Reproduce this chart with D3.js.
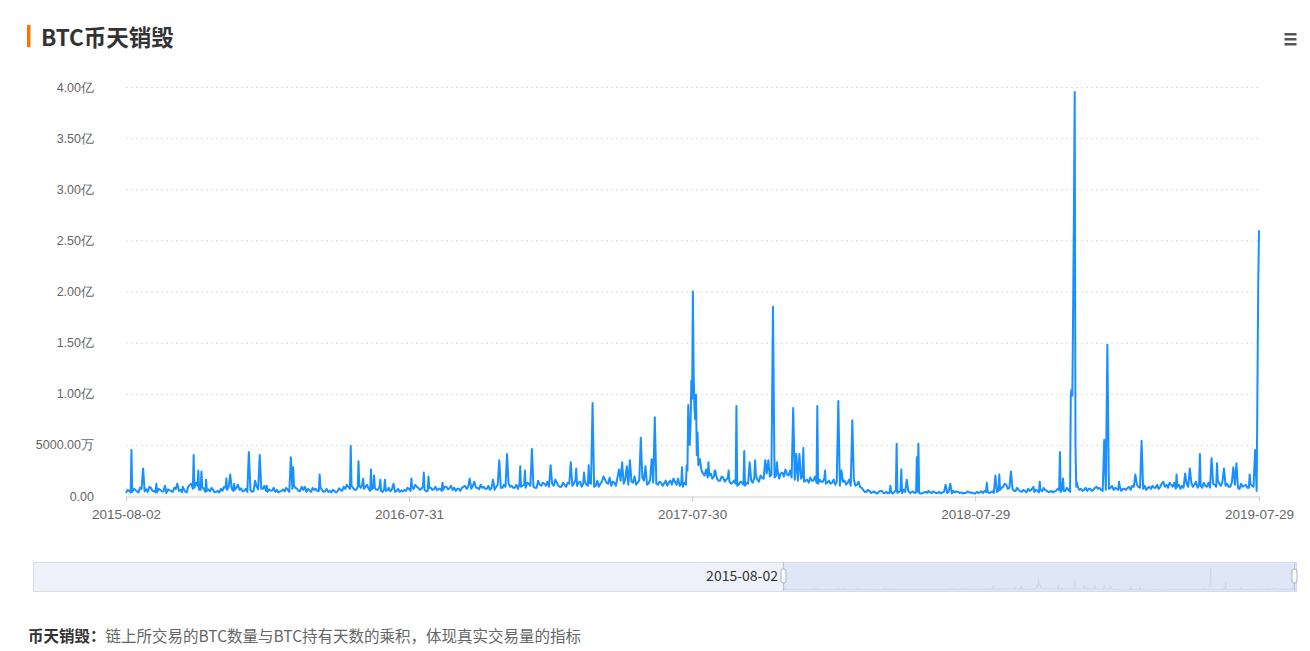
<!DOCTYPE html>
<html><head><meta charset="utf-8">
<script src="https://cdnjs.cloudflare.com/ajax/libs/d3/7.8.5/d3.min.js"></script>
<style>
body{margin:0;background:#fff;}
svg{display:block;font-family:"Microsoft YaHei","Noto Sans CJK SC","Noto Sans",sans-serif;}
</style>
</head><body>
<svg id="chart" width="1310" height="651"></svg>
<script>
// ---------------- data ----------------
const titleText = "BTC币天销毁";
const noteLabel = "币天销毁：";
const noteText = "链上所交易的BTC数量与BTC持有天数的乘积，体现真实交易量的指标";
const startDate = "2015-08-02";
const endDate = "2019-07-29";
// baseline readings (unit: 万) on days 0,4,8,... after startDate
const baseValues = [
 300,500,400,600,350,700,450,400,800,500,
 350,600,450,300,550,400,700,500,380,450,
 900,1200,800,1000,600,700,500,450,600,400,
 350,500,800,900,700,600,1000,750,500,400,
 600,450,900,1100,700,500,650,550,400,350,
 500,450,600,900,1000,700,500,600,400,550,
 800,700,500,600,450,400,350,500,450,600,
 900,1100,700,800,600,1000,1200,900,700,650,
 800,600,500,700,550,450,600,500,400,450,
 500,700,900,1100,800,700,600,500,800,650,
 550,700,600,900,750,600,500,700,800,1000,
 900,700,600,800,1100,900,700,600,750,900,
 1000,800,900,1200,1000,800,700,900,1100,1300,
 1000,900,800,1100,1300,1000,900,1200,1400,1000,
 900,1100,1300,1500,1200,1000,1400,1200,1100,1300,
 1200,1000,900,1400,1600,1200,1000,1300,1800,1500,
 1200,1400,1700,1300,1100,1500,1800,1400,1200,1000,
 900,1100,1300,1200,1000,1500,1300,1100,1000,900,
 1100,1400,2000,
 5000,3000,2500,2000,1800,2200,1900,
 1700,1500,1800,1600,1400,1300,1200,1100,1300,1000,
 1200,1500,1800,1600,2000,1700,2200,1900,2400,2000,
 1700,2300,2600,2000,1800,1600,1500,1700,1400,1600,
 1800,1500,1300,1600,1400,1200,1500,1300,1100,1400,
 1200,1500,1300,1000,1600,1100,900,
 600,400,500,
 350,300,400,500,300,250,350,400,300,500,
 600,400,300,450,350,300,250,400,500,300,
 350,300,250,400,300,350,500,450,300,250,
 300,400,350,250,300,450,500,400,350,300,
 400,600,900,1100,800,700,500,600,400,500,
 700,600,400,500,600,800,500,400,350,500,
 600,
 700,500,600,800,1200,900,700,600,500,
 700,600,900,800,500,600,700,1000,800,600,
 500,700,800,600,900,1100,800,700,600,900,
 1000,800,700,1200,900,800,1100,1300,900,700,
 800,1200,1000,900,1400,1100,800,1000,1300,900,
 1100,1500,1000,800,1200,900,1300,1000,700,900,
 1100,800,1000,600,700
];
// baseline readings (unit: 万) on days 2,6,10,... after startDate
const midValues = [
 600,350,700,450,800,400,650,900,500,350,
 700,450,300,650,500,800,400,600,700,350,
 1100,700,1300,600,900,400,650,800,350,500,
 700,900,600,1200,500,800,600,450,700,550,
 400,800,650,700,1000,400,500,800,600,450,
 650,800,400,700,800,500,900,450,700,400,
 600,500,850,400,700,500,600,350,750,500,
 700,900,1000,600,900,800,700,1100,500,800,
 600,900,400,500,800,650,400,700,550,600,
 800,500,700,900,600,1000,450,800,600,900,
 700,500,900,650,1000,800,700,500,900,700,
 600,1000,800,650,800,700,1000,800,600,1100,
 800,1100,1300,900,800,1100,1200,1000,800,1200,
 1200,800,1100,1000,1200,1400,800,1000,1300,900,
 1300,900,1200,1000,1600,1300,900,1500,1000,1200,
 900,1500,1200,1100,1300,1800,1400,1000,1500,1200,
 1600,1100,1400,1900,1300,1200,1500,1100,1600,1300,
 1200,1400,1000,1500,1300,1100,1400,1700,1200,1300,
 2500,7000,12000,
 4000,3500,2200,2600,2000,1700,2400,
 1500,1900,1400,1800,1200,1500,1000,1400,1100,1300,
 1600,1300,2000,1400,1800,2300,1600,2100,1800,2500,
 2200,1900,2100,2500,1600,1900,1400,1900,1500,1300,
 1500,1900,1200,1400,1700,1300,1200,1600,1400,1000,
 1400,1100,1600,1300,1000,1400,800,
 400,600,300,
 450,250,500,300,400,350,250,500,400,300,
 400,500,350,300,450,250,350,300,350,450,
 300,400,350,300,450,250,350,400,350,300,
 450,300,250,400,350,300,400,300,450,350,
 500,800,1200,700,1000,500,800,450,600,350,
 500,800,600,350,450,600,400,500,450,700,
 400,
 500,800,400,600,900,600,500,800,700,
 500,800,700,600,900,500,800,600,700,900,
 700,600,900,1000,700,900,600,1000,800,700,
 800,1100,900,800,1100,1300,900,700,1100,1000,
 1100,900,1300,1100,800,1000,1300,900,800,1200,
 900,1200,1400,1000,900,1300,1100,800,1200,1000,
 800,1200,900,700
];
// single-day readings [days after startDate, value in 万]
const spikes = [
 [7,4500],[22,2700],[39,1200],[50,1000],[66,1200],[73,900],[87,4000],[93,2500],[97,2400],[103,1600],
 [129,1700],[134,2100],[139,1200],[144,1100],[158,4300],[166,1500],[172,4000],[181,1000],[212,3800],[215,2800],
 [230,900],[249,2100],[289,4900],[299,3400],[305,1700],[315,2600],[319,2000],[327,1600],[333,1600],[344,1200],
 [367,1700],[383,2300],[389,1900],[407,1300],[442,1700],[448,1400],[472,1600],[480,3500],[490,4100],[507,2900],
 [513,2500],[522,4600],[530,1500],[546,3000],[552,1600],[572,3300],[579,2700],[589,2300],[595,3000],[600,9100],
 [614,1900],[634,2600],[638,3300],[644,2900],[648,3500],[662,5700],[668,2900],[676,3600],[680,7700],[704,1700],
 [715,2800],[721,3000],[723,8900],[724,6000],[725,5000],[727,11300],[728,9500],[729,20000],[731,8700],[732,7500],
 [733,9900],[735,6200],[738,3600],[749,3300],[757,2500],[775,2500],[785,8800],[795,4400],[802,3300],[809,3500],
 [822,3500],[826,3500],[832,18500],[837,3300],[849,2400],[858,8600],[862,4100],[866,4100],[871,4700],[889,8800],
 [899,2500],[916,9300],[920,2500],[934,7400],[942,1400],[983,1000],[991,5100],[997,2600],[1004,1600],[1017,3800],
 [1019,5100],[1054,1100],[1060,1200],[1107,1300],[1118,2000],[1123,2100],[1138,2400],[1167,900],[1175,1400],[1201,4300],
 [1205,1700],[1215,10000],[1216,10400],[1217,9800],[1218,18500],[1219,28000],[1220,39500],[1221,4800],[1223,1300],[1258,5500],
 [1262,14800],[1277,1400],[1298,2100],[1306,5400],[1334,1400],[1351,2100],[1362,2200],[1368,2700],[1381,4100],[1396,3700],
 [1403,3200],[1412,2700],[1424,2800],[1428,3200],[1445,2100],[1452,4500],[1454,500],[1456,20600],[1457,26000]
];
const xTickLabels = ["2015-08-02","2016-07-31","2017-07-30","2018-07-29","2019-07-29"];
const yTickValues = [0,5000,10000,15000,20000,25000,30000,35000,40000];
const sliderStartLabel = "2015-08-02";

// ---------------- build series ----------------
const parse = d3.utcParse("%Y-%m-%d");
const fmtDate = d3.utcFormat("%Y-%m-%d");
const t0 = parse(startDate), t1 = parse(endDate);
const byDay = new Map();
baseValues.forEach((v,i)=>byDay.set(i*4, v));
midValues.forEach((v,i)=>byDay.set(i*4+2, v));
spikes.forEach(([d,v])=>byDay.set(d, v));
const series = Array.from(byDay, ([d,v])=>({date:d3.utcDay.offset(t0,d), value:v}))
  .sort((a,b)=>a.date-b.date);

// ---------------- drawing ----------------
const svg = d3.select("#chart");
const L = 126, R = 1259, T = 87, B = 496;
const x = d3.scaleUtc().domain([t0,t1]).range([L,R]);
const y = d3.scaleLinear().domain([0,40000]).range([B,T]);
const yFmt = v => v===0 ? "0.00" : (v>=10000 ? (v/10000).toFixed(2)+"亿" : v.toFixed(2)+"万");

// title
svg.append("rect").attr("x",27).attr("y",25).attr("width",3.5).attr("height",22).attr("fill","#ff7300");
svg.append("text").attr("x",41).attr("y",46).attr("font-size",22.5).attr("font-weight","bold")
  .attr("fill","#333").text(titleText);

// menu icon
[33,38,43].forEach(yy=>svg.append("rect").attr("x",1284.5).attr("y",yy).attr("width",12).attr("height",2.5).attr("fill","#555"));

// grid
svg.append("g").selectAll("line").data(yTickValues.filter(v=>v>0)).join("line")
  .attr("x1",L).attr("x2",R).attr("y1",d=>y(d)+0.5).attr("y2",d=>y(d)+0.5)
  .attr("stroke","#dcdcdc").attr("stroke-dasharray","2,3");

// y axis
const gy = svg.append("g").attr("transform",`translate(${L},0)`)
  .call(d3.axisLeft(y).tickValues(yTickValues).tickFormat(yFmt).tickSize(0).tickPadding(32));
gy.select(".domain").remove();
gy.selectAll("text").attr("font-size",12.5).attr("fill","#666").attr("font-family","inherit");

// x axis
const gx = svg.append("g").attr("transform",`translate(0,${B+0.5})`)
  .call(d3.axisBottom(x).tickValues(xTickLabels.map(parse)).tickFormat(fmtDate).tickSize(5).tickSizeOuter(0).tickPadding(8));
gx.select(".domain").attr("stroke","#ccc");
gx.selectAll(".tick line").attr("stroke","#ccc");
gx.selectAll("text").attr("font-size",13.5).attr("fill","#666").attr("font-family","inherit");

// line
svg.append("path").datum(series)
  .attr("fill","none").attr("stroke","#1890ff").attr("stroke-width",2).attr("stroke-linejoin","round")
  .attr("d", d3.line().x(d=>x(d.date)).y(d=>y(d.value)));

// slider (data zoom)
const sL = 33, sR = 1296, sT = 562, sB = 591, selL = 783;
svg.append("rect").attr("x",sL+0.5).attr("y",sT+0.5).attr("width",sR-sL).attr("height",sB-sT)
  .attr("fill","#eef1f9").attr("stroke","#d6deee");
svg.append("rect").attr("x",selL).attr("y",sT+1).attr("width",sR-selL).attr("height",sB-sT-1)
  .attr("fill","#dfe6f5");
const sx = d3.scaleUtc().domain([t0,t1]).range([selL, sR-2]);
const sy = d3.scaleLinear().domain([0,40000]).range([sB-1, sT+6]);
svg.append("path").datum(series).attr("fill","none").attr("stroke","#c9d1e2").attr("stroke-width",0.6)
  .attr("d", d3.line().x(d=>sx(d.date)).y(d=>sy(d.value)));
[selL, sR-2].forEach(hx=>{
  svg.append("line").attr("x1",hx+0.5).attr("x2",hx+0.5).attr("y1",sT).attr("y2",sB).attr("stroke","#b8c3d8");
  svg.append("rect").attr("x",hx-2).attr("y",sT+7).attr("width",5).attr("height",14).attr("rx",2)
    .attr("fill","#fff").attr("stroke","#a3b0c6");
});
svg.append("text").attr("x",selL-5).attr("y",sT+19).attr("text-anchor","end").attr("font-size",14)
  .attr("fill","#333").text(sliderStartLabel);

// footnote
const note = svg.append("text").attr("x",28).attr("y",642).attr("font-size",15.5);
note.append("tspan").attr("font-weight","bold").attr("fill","#333").text(noteLabel);
note.append("tspan").attr("fill","#666").text(noteText);
</script>
</body></html>
